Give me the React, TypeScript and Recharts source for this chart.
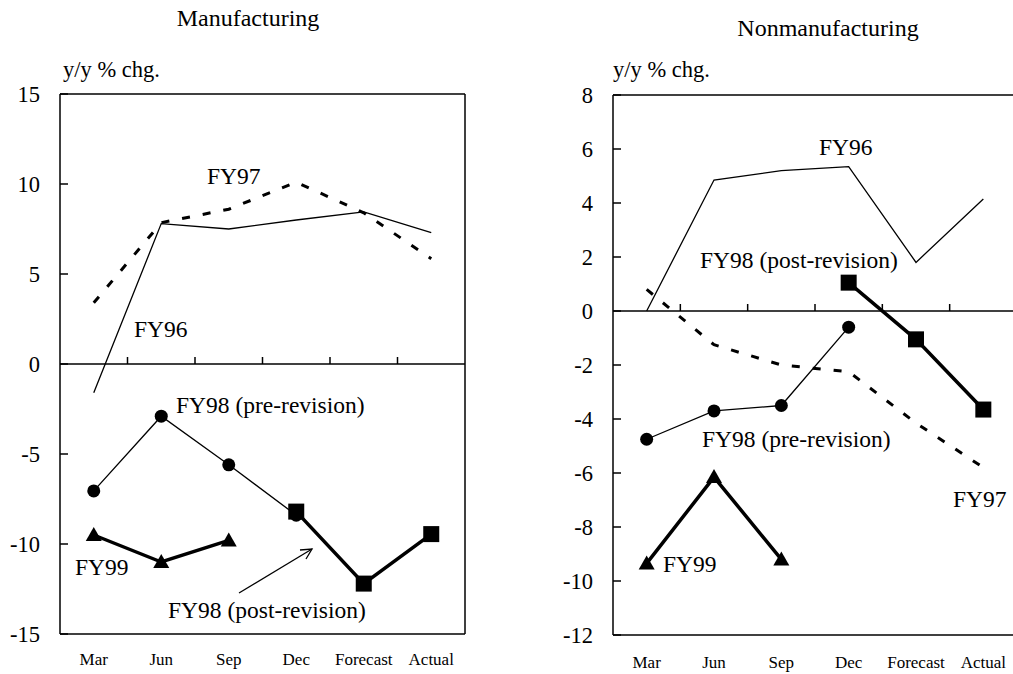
import React from 'react'
import {
  LineChart,
  Line,
  XAxis,
  YAxis,
  ReferenceLine
} from 'recharts'

const months = ['Mar', 'Jun', 'Sep', 'Dec', 'Forecast', 'Actual']

// Manufacturing, y/y % chg.
const mfgFY96 = [-1.6, 7.8, 7.5, 8.0, 8.45, 7.3]
const mfgFY97 = [3.4, 7.85, 8.6, 10.1, 8.4, 5.85]
const mfgFY98Pre = [-7.05, -2.9, -5.6, -8.4, null, null]
const mfgFY98Post = [null, null, null, -8.2, -12.2, -9.45]
const mfgFY99 = [-9.5, -11.0, -9.8, null, null, null]
const mfgTicks = [-15, -10, -5, 0, 5, 10, 15]

// Nonmanufacturing, y/y % chg.
const nonFY96 = [0, 4.85, 5.2, 5.35, 1.8, 4.15]
const nonFY97 = [0.8, -1.25, -2.0, -2.25, -4.15, -5.8]
const nonFY98Pre = [-4.75, -3.7, -3.5, -0.6, null, null]
const nonFY98Post = [null, null, null, 1.05, -1.05, -3.65]
const nonFY99 = [-9.35, -6.15, -9.2, null, null, null]
const nonTicks = [-12, -10, -8, -6, -4, -2, 0, 2, 4, 6, 8]

const SERIF = '"Liberation Serif", "Times New Roman", Times, serif'
const PLOT_H = 540
const Y_GAP = 20

const build = (a: any[], b: any[], c: any[], d: any[], e: any[]) =>
  months.map((m, i) => ({ m, fy96: a[i], fy97: b[i], pre: c[i], post: d[i], fy99: e[i] }))

const mfgData = build(mfgFY96, mfgFY97, mfgFY98Pre, mfgFY98Post, mfgFY99)
const nonData = build(nonFY96, nonFY97, nonFY98Pre, nonFY98Post, nonFY99)

const CircleDot = (p: any) => {
  if (p.cy == null || p.value == null) return <g key={`c-${p.index}`} />
  return <circle key={`c-${p.index}`} cx={p.cx} cy={p.cy} r={6.5} fill="#000" />
}

const SquareDot = (p: any) => {
  if (p.cy == null || p.value == null) return <g key={`s-${p.index}`} />
  return <rect key={`s-${p.index}`} x={p.cx - 8} y={p.cy - 8} width={16} height={16} fill="#000" />
}

const TriangleDot = (p: any) => {
  if (p.cy == null || p.value == null) return <g key={`t-${p.index}`} />
  const { cx, cy } = p
  return (
    <path
      key={`t-${p.index}`}
      d={`M${cx},${cy - 8} L${cx + 8},${cy + 6} L${cx - 8},${cy + 6} Z`}
      fill="#000"
    />
  )
}

// y label plus a short inward tick on the frame
const YTick = (p: any) => (
  <g>
    <text x={p.x} y={p.y} dy="0.36em" textAnchor="end" fontSize={22.5} fontFamily={SERIF} fill="#000">
      {p.payload.value}
    </text>
    <line x1={p.x + Y_GAP} x2={p.x + Y_GAP + 8} y1={p.y} y2={p.y} stroke="#000" strokeWidth={1.5} />
  </g>
)

// x label plus the small upward tick on the zero line at the band's right edge
const makeXTick = (labelGap: number, zeroFrac: number, band: number) => (p: any) => {
  const zeroY = p.y - labelGap - PLOT_H * (1 - zeroFrac)
  const edge = p.x + band / 2
  return (
    <g>
      <text x={p.x} y={p.y} dy="0.71em" textAnchor="middle" fontSize={17} fontFamily={SERIF} fill="#000">
        {p.payload.value}
      </text>
      {p.index < months.length - 1 && (
        <line x1={edge} x2={edge} y1={zeroY} y2={zeroY - 7} stroke="#000" strokeWidth={1.5} />
      )}
    </g>
  )
}

interface PanelProps {
  data: any[]
  domain: [number, number]
  ticks: number[]
  width: number
  margin: any
  labelGap: number
  rightEdge: boolean
}

const Panel = ({ data, domain, ticks, width, margin, labelGap, rightEdge }: PanelProps) => {
  const zeroFrac = domain[1] / (domain[1] - domain[0])
  const band = (width - margin.left - margin.right - 60) / months.length
  return (
    <LineChart width={width} height={674} data={data} margin={margin}>
      <XAxis
        dataKey="m"
        scale="band"
        interval={0}
        tickLine={false}
        axisLine={{ stroke: '#000', strokeWidth: 1.5 }}
        tickSize={0}
        tickMargin={labelGap}
        height={30}
        tick={makeXTick(labelGap, zeroFrac, band)}
      />
      <YAxis
        type="number"
        domain={domain}
        ticks={ticks}
        interval={0}
        width={60}
        axisLine={{ stroke: '#000', strokeWidth: 1.5 }}
        tickLine={false}
        tickSize={0}
        tickMargin={Y_GAP}
        tick={YTick}
      />
      <ReferenceLine y={domain[1]} stroke="#000" strokeWidth={1.5} ifOverflow="visible" />
      {rightEdge && (
        <ReferenceLine x="Actual" position="end" stroke="#000" strokeWidth={1.5} ifOverflow="visible" />
      )}
      <ReferenceLine y={0} stroke="#000" strokeWidth={1.5} />
      <Line dataKey="fy96" stroke="#000" strokeWidth={1.3} dot={false} isAnimationActive={false} />
      <Line
        dataKey="fy97"
        stroke="#000"
        strokeWidth={3}
        strokeDasharray="8 13"
        dot={false}
        isAnimationActive={false}
      />
      <Line dataKey="pre" stroke="#000" strokeWidth={1.3} dot={CircleDot} isAnimationActive={false} />
      <Line dataKey="post" stroke="#000" strokeWidth={3.5} dot={SquareDot} isAnimationActive={false} />
      <Line dataKey="fy99" stroke="#000" strokeWidth={3.5} dot={TriangleDot} isAnimationActive={false} />
    </LineChart>
  )
}

// annotation text: [text, x, baseline]
const notes: [string, number, number][] = [
  ['FY97', 207, 184],
  ['FY96', 134, 337],
  ['FY98 (pre-revision)', 176, 413],
  ['FY99', 75, 575],
  ['FY98 (post-revision)', 168, 618],
  ['FY96', 819, 155],
  ['FY98 (post-revision)', 700, 268],
  ['FY98 (pre-revision)', 702, 447],
  ['FY97', 953, 507],
  ['FY99', 663, 572]
]

export default function App() {
  return (
    <div
      style={{
        position: 'absolute',
        left: 0,
        top: 0,
        width: 1013,
        height: 674,
        overflow: 'hidden',
        background: '#fff'
      }}
    >
      <div style={{ position: 'absolute', left: 0, top: 0 }}>
        <Panel
          data={mfgData}
          domain={[-15, 15]}
          ticks={mfgTicks}
          width={500}
          labelGap={19}
          rightEdge
          margin={{ top: 94, right: 35, bottom: 10, left: 0 }}
        />
      </div>
      <div style={{ position: 'absolute', left: 553, top: 0 }}>
        <Panel
          data={nonData}
          domain={[-12, 8]}
          ticks={nonTicks}
          width={464}
          labelGap={21}
          rightEdge={false}
          margin={{ top: 95, right: 0, bottom: 9, left: 0 }}
        />
      </div>
      <svg
        width={1013}
        height={674}
        style={{ position: 'absolute', left: 0, top: 0, pointerEvents: 'none', fontFamily: SERIF }}
        fill="#000"
      >
        <text x={248} y={26} fontSize={24} textAnchor="middle">Manufacturing</text>
        <text x={828} y={36} fontSize={24} textAnchor="middle">Nonmanufacturing</text>
        <text x={63} y={77} fontSize={22.5}>y/y % chg.</text>
        <text x={613} y={77} fontSize={22.5}>y/y % chg.</text>
        {notes.map(([t, x, y], i) => (
          <text key={i} x={x} y={y} fontSize={23.5}>{t}</text>
        ))}
        <g stroke="#000" strokeWidth={1.3} fill="none">
          <line x1={239} y1={593} x2={312} y2={549} />
          <polyline points="300,550 312,549 306,559" />
        </g>
      </svg>
    </div>
  )
}
